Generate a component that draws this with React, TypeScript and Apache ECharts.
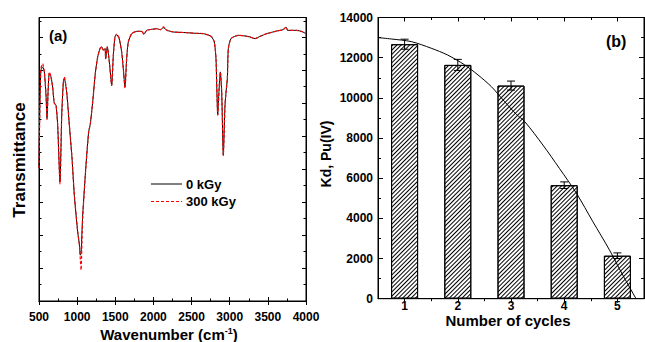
import React, { useEffect, useRef } from "react";
import * as echarts from "echarts";

// ---- Panel (a): FTIR spectra ----
const wavenumbers = [500, 512, 525, 548, 570, 592, 605, 620, 635, 657, 679, 700, 723, 745, 775, 798, 819, 832, 863, 898, 933, 963, 1007, 1030, 1042, 1052, 1062, 1073, 1116, 1151, 1173, 1204, 1238, 1269, 1300, 1322, 1343, 1365, 1374, 1395, 1422, 1453, 1474, 1496, 1518, 1549, 1584, 1605, 1627, 1649, 1671, 1715, 1781, 1846, 1876, 1911, 1977, 2043, 2090, 2130, 2180, 2261, 2350, 2436, 2550, 2654, 2730, 2764, 2798, 2820, 2843, 2860, 2877, 2895, 2916, 2938, 2952, 2969, 2982, 3017, 3113, 3200, 3266, 3332, 3400, 3485, 3550, 3616, 3700, 3738, 3760, 3790, 3878, 3950, 4000];
const trans0kGy = [40.3, 60, 70, 71, 69.5, 62.4, 55.4, 64, 69, 68, 64.9, 60, 59.4, 53.3, 36.1, 56.4, 66.4, 67.5, 63.4, 53.3, 43.3, 32.1, 21, 17, 13.9, 14.5, 20, 26.1, 41.2, 51.3, 53.8, 60.4, 69, 74, 76.6, 77.1, 76.1, 76.6, 73.5, 77.1, 72.5, 65.4, 74.5, 80.1, 80.8, 79.8, 75.5, 70.5, 64.9, 73.5, 78.6, 81.1, 81.8, 81.8, 80.9, 82.1, 82.4, 82.6, 82.3, 82.9, 82.1, 81.6, 81.5, 81.4, 81.2, 81.1, 80.6, 80.1, 78.6, 73.6, 56.4, 63.9, 69.5, 63.4, 44.2, 59.3, 63.4, 67.5, 76.6, 79.6, 80.6, 80.4, 80.1, 79.6, 80.3, 81.1, 81.5, 81.9, 82.3, 83.1, 82.1, 82.1, 82.1, 81.7, 81.1];
const trans300kGy = [40.3, 60, 70.5, 72, 69.5, 62.4, 55, 64, 69.5, 68, 64.9, 60, 59.4, 53.3, 35.5, 56.4, 66.4, 68, 63.4, 53.3, 43.3, 32.1, 21, 17, 12.5, 9.4, 17, 25.5, 41.2, 51.3, 53.8, 60.4, 69, 74, 76.6, 77.1, 76.1, 76.6, 73.5, 77.1, 72.5, 65.4, 74.5, 80.1, 81, 79.8, 75.5, 70.5, 64.5, 73.5, 78.6, 81.1, 81.8, 81.8, 80.9, 82.1, 82.4, 82.6, 82.3, 83.2, 82.1, 81.6, 81.5, 81.4, 81.2, 81.1, 80.6, 80.1, 78.6, 73.6, 56.4, 63.9, 69.5, 63.4, 44.2, 59.3, 63.4, 67.5, 76.6, 79.6, 80.6, 80.4, 80.1, 79.6, 80.3, 81.1, 81.5, 81.9, 82.3, 83.1, 82.1, 82.1, 82.1, 81.7, 81.1];
const seriesNames = ["0 kGy", "300 kGy"];

// ---- Panel (b): Kd vs cycles ----
const cycles = [1, 2, 3, 4, 5];
const kd = [12670, 11640, 10610, 5650, 2140];
const kdErr = [250, 275, 225, 165, 140];
const fitX = [0.5, 0.75, 1.125, 1.5, 1.81, 2.13, 2.38, 2.63, 2.88, 3.1, 3.26, 3.6, 3.91, 4.23, 4.54, 4.85, 5.1, 5.35];
const fitY = [13000, 12930, 12800, 12470, 12130, 11640, 11140, 10560, 9810, 9180, 8810, 7650, 6490, 5250, 3830, 2430, 1180, 0];
const cycleMinor = [1.5, 2.5, 3.5, 4.5];

const FONT = "'Liberation Sans', Arial, sans-serif";

export default function App() {
  const ref = useRef<HTMLDivElement>(null);
  useEffect(() => {
    if (!ref.current) return;
    const chart = echarts.init(ref.current, null, { renderer: "svg" });
    const axisLine = { show: true, lineStyle: { color: "#000", width: 1 } };
    const labelStyle = { color: "#000", fontWeight: "bold" as const, fontSize: 12, fontFamily: FONT, formatter: (v: number) => String(v) };
    const option: any = {
      animation: false,
      backgroundColor: "#fff",
      grid: [
        { left: 39, top: 17.5, width: 267, height: 283.5, show: true, borderColor: "#000", borderWidth: 1, backgroundColor: "transparent" },
        { left: 378, top: 17.5, width: 266, height: 281.2, show: true, borderColor: "#000", borderWidth: 1, backgroundColor: "transparent" },
      ],
      xAxis: [
        {
          type: "value", gridIndex: 0, position: "bottom", min: 500, max: 4000, interval: 500,
          axisLine, splitLine: { show: false },
          axisTick: { show: true, inside: true, length: 4, lineStyle: { color: "#000" } },
          minorTick: { show: true, splitNumber: 2, length: 2.5, lineStyle: { color: "#000" } },
          axisLabel: { ...labelStyle, margin: 10 },
        },
        {
          type: "value", gridIndex: 0, position: "top", min: 500, max: 4000, interval: 500,
          axisLine, splitLine: { show: false },
          axisTick: { show: true, inside: true, length: 4, lineStyle: { color: "#000" } },
          axisLabel: { show: false },
        },
        {
          type: "value", gridIndex: 1, position: "bottom", min: 0.5, max: 5.5,
          axisLine, splitLine: { show: false },
          axisTick: { show: true, inside: false, length: 4, customValues: cycles, lineStyle: { color: "#000" } },
          axisLabel: { ...labelStyle, margin: 1, customValues: cycles },
        },
        {
          type: "value", gridIndex: 1, position: "bottom", min: 0.5, max: 5.5,
          axisLine: { show: false }, splitLine: { show: false },
          axisTick: { show: true, inside: false, length: 2.5, customValues: cycleMinor, lineStyle: { color: "#000" } },
          axisLabel: { show: false },
        },
        {
          type: "value", gridIndex: 1, position: "top", min: 0.5, max: 5.5,
          axisLine, splitLine: { show: false },
          axisTick: { show: true, inside: true, length: 4, customValues: cycles, lineStyle: { color: "#000" } },
          axisLabel: { show: false },
        },
        {
          type: "value", gridIndex: 1, position: "top", min: 0.5, max: 5.5,
          axisLine: { show: false }, splitLine: { show: false },
          axisTick: { show: true, inside: true, length: 2.5, customValues: cycleMinor, lineStyle: { color: "#000" } },
          axisLabel: { show: false },
        },
      ],
      yAxis: [
        {
          type: "value", gridIndex: 0, position: "left", min: 0, max: 86, interval: 10,
          axisLine, splitLine: { show: false },
          axisTick: { show: true, inside: true, length: 4, lineStyle: { color: "#000" } },
          minorTick: { show: true, splitNumber: 2, length: 2.5, lineStyle: { color: "#000" } },
          axisLabel: { show: false },
        },
        {
          type: "value", gridIndex: 0, position: "right", min: 0, max: 86, interval: 10,
          axisLine, splitLine: { show: false },
          axisTick: { show: true, inside: true, length: 4, lineStyle: { color: "#000" } },
          minorTick: { show: true, splitNumber: 2, length: 2.5, lineStyle: { color: "#000" } },
          axisLabel: { show: false },
        },
        {
          type: "value", gridIndex: 1, position: "left", min: 0, max: 14000, interval: 2000,
          axisLine, splitLine: { show: false },
          axisTick: { show: true, inside: true, length: 5, lineStyle: { color: "#000" } },
          minorTick: { show: true, splitNumber: 2, length: 3, lineStyle: { color: "#000" } },
          axisLabel: { ...labelStyle, margin: 5 },
        },
        {
          type: "value", gridIndex: 1, position: "right", min: 0, max: 14000, interval: 2000,
          axisLine, splitLine: { show: false },
          axisTick: { show: true, inside: true, length: 5, lineStyle: { color: "#000" } },
          minorTick: { show: true, splitNumber: 2, length: 3, lineStyle: { color: "#000" } },
          axisLabel: { show: false },
        },
      ],
      series: [
        {
          name: seriesNames[0], type: "line", xAxisIndex: 0, yAxisIndex: 0, symbol: "none", smooth: 0.2,
          data: wavenumbers.map((w, i) => [w, trans0kGy[i]]),
          lineStyle: { color: "#000", width: 1 }, itemStyle: { color: "#000" },
        },
        {
          name: seriesNames[1], type: "line", xAxisIndex: 0, yAxisIndex: 0, symbol: "none", smooth: 0.2,
          data: wavenumbers.map((w, i) => [w, trans300kGy[i]]),
          lineStyle: { color: "#ff0000", width: 1.2, type: [3, 2] }, itemStyle: { color: "#ff0000" },
        },
        {
          type: "bar", xAxisIndex: 2, yAxisIndex: 2, barWidth: 27,
          data: cycles.map((c, i) => [c, kd[i]]),
          itemStyle: {
            color: "#fff", borderColor: "#000", borderWidth: 1,
            decal: { symbol: "rect", symbolSize: 1, rotation: -Math.PI / 4, dashArrayX: [1, 0], dashArrayY: [1, 2], color: "#000", backgroundColor: "#fff" },
          },
        },
        {
          type: "line", xAxisIndex: 2, yAxisIndex: 2, symbol: "none", smooth: 0.3, z: 5,
          data: fitX.map((x, i) => [x, fitY[i]]),
          lineStyle: { color: "#000", width: 1 },
        },
        {
          type: "custom", xAxisIndex: 2, yAxisIndex: 2, z: 6,
          data: cycles.map((c, i) => [c, kd[i], kdErr[i]]),
          renderItem: (params: any, api: any) => {
            const x = api.value(0), y = api.value(1), e = api.value(2);
            const t = api.coord([x, y + e]);
            const b = api.coord([x, y - e]);
            const hw = 4;
            const st = { stroke: "#000", lineWidth: 1 };
            return {
              type: "group",
              children: [
                { type: "line", shape: { x1: t[0], y1: t[1], x2: b[0], y2: b[1] }, style: st },
                { type: "line", shape: { x1: t[0] - hw, y1: t[1], x2: t[0] + hw, y2: t[1] }, style: st },
                { type: "line", shape: { x1: b[0] - hw, y1: b[1], x2: b[0] + hw, y2: b[1] }, style: st },
              ],
            };
          },
        },
      ],
      graphic: [
        { type: "text", left: 49, top: 28, style: { text: "(a)", font: `bold 15px ${FONT}`, fill: "#000" } },
        { type: "text", left: 606, top: 33, style: { text: "(b)", font: `bold 16px ${FONT}`, fill: "#000" } },
        { type: "text", x: 19, y: 160, rotation: Math.PI / 2, style: { text: "Transmittance", font: `bold 17px ${FONT}`, fill: "#000", align: "center", verticalAlign: "middle" } },
        { type: "text", x: 326, y: 154, rotation: Math.PI / 2, style: { text: "Kd, Pu(IV)", font: `bold 14px ${FONT}`, fill: "#000", align: "center", verticalAlign: "middle" } },
        { type: "text", x: 508, y: 320, style: { text: "Number of cycles", font: `bold 15px ${FONT}`, fill: "#000", align: "center", verticalAlign: "middle" } },
        {
          type: "text", x: 169, y: 334,
          style: {
            text: "{a|Wavenumber (cm}{s|-1}{a|)}", align: "center", verticalAlign: "middle", fill: "#000",
            rich: {
              a: { fontSize: 15, fontWeight: "bold", fontFamily: FONT, lineHeight: 15, verticalAlign: "bottom" },
              s: { fontSize: 9, fontWeight: "bold", fontFamily: FONT, lineHeight: 15, verticalAlign: "top" },
            },
          },
        },
        // legend
        { type: "line", shape: { x1: 151, y1: 184, x2: 182, y2: 184 }, style: { stroke: "#000", lineWidth: 1 } },
        { type: "line", shape: { x1: 151, y1: 201.5, x2: 182, y2: 201.5 }, style: { stroke: "#ff0000", lineWidth: 1.2, lineDash: [3, 2] } },
        { type: "text", x: 186, y: 184.3, style: { text: seriesNames[0], font: `bold 13px ${FONT}`, fill: "#000", verticalAlign: "middle" } },
        { type: "text", x: 186, y: 201.7, style: { text: seriesNames[1], font: `bold 13px ${FONT}`, fill: "#000", verticalAlign: "middle" } },
      ],
    };
    chart.setOption(option);
    return () => chart.dispose();
  }, []);
  return <div ref={ref} style={{ position: "fixed", left: 0, top: 0, width: 645, height: 342, background: "#fff" }} />;
}
